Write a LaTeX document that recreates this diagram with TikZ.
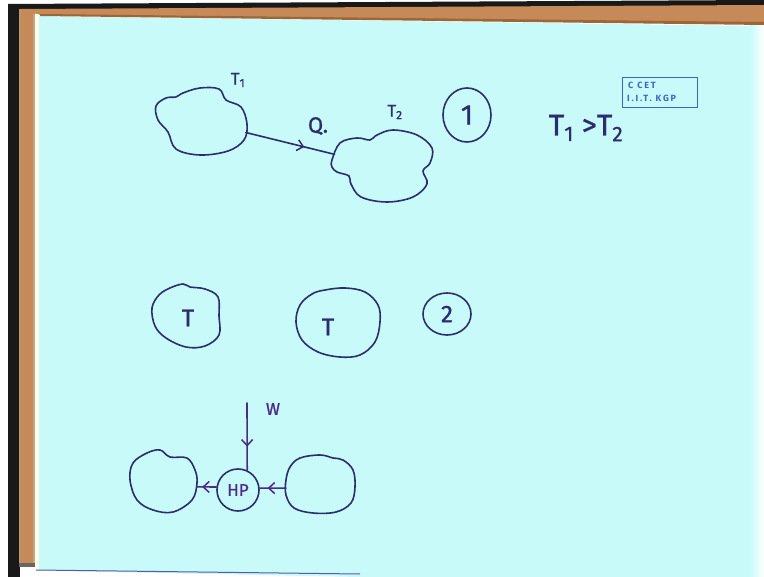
\documentclass[tikz,border=0pt]{standalone}
\usepackage{fontspec}
\setmainfont{Fira Sans}
\usetikzlibrary{shapes.geometric,arrows.meta,decorations.markings,calc}
\definecolor{board}{HTML}{C8FAFA}
\definecolor{wood}{HTML}{C68A58}
\definecolor{wooddark}{HTML}{9C6638}
\definecolor{ink}{HTML}{2B2D6E}
\definecolor{inkp}{HTML}{4B2A88}
\definecolor{stamp}{HTML}{4262C8}
\newcommand{\hand}[1]{\fontsize{#1}{#1}\selectfont\addfontfeature{FakeBold=1}}
\tikzset{
  pen/.style={draw=ink,line width=1.6pt,line cap=round,line join=round},
  penp/.style={draw=inkp,line width=1.6pt,line cap=round,line join=round},
  blobnode/.style={ellipse,draw=none,inner sep=0pt},
  lbl/.style={text=ink,inner sep=0pt},
  lblp/.style={text=inkp,inner sep=0pt},
  midarrow/.style={postaction={decorate},decoration={markings,
     mark=at position #1 with {\arrow{Straight Barb[length=6pt,width=11pt,line width=1.5pt]}}}}
}
\begin{document}
\begin{tikzpicture}[x=1pt,y=-1pt]
\useasboundingbox (0,0) rectangle (764,577);
% ---- frame and board ----
\fill[white] (0,0) rectangle (764,577);
\fill[board] (38,16) -- (758,26) -- (764,26) -- (764,577) -- (360,577) -- (60,571) -- (38,571) -- cycle;
\shade[left color=board,right color=white] (750,26) rectangle (764,577);
\fill[black!90] (8,4) rectangle (20,577);
\fill[black!90] (8,4) -- (764,0) -- (764,6) -- (8,10) -- cycle;
\fill[wood] (20,9) -- (764,5) -- (764,23) -- (40,15) -- cycle;
\fill[wood] (19,9) rectangle (35,563);
\fill[wooddark] (40,14) -- (764,22) -- (764,25) -- (40,16) -- cycle;
\fill[wooddark!70] (19,10) rectangle (21,563);
\fill[wooddark!60] (33,14) rectangle (35,563);
\fill[yellow!10!white] (35,14) rectangle (39,569);
\fill[black!60] (19,563) rectangle (35,567);
\draw[blue!30!gray,line width=1pt] (36,570) -- (360,574);
% ---- picture 1 ----
\node[blobnode,minimum width=90pt,minimum height=66pt] (t1) at (203,122) {};
\draw[pen] plot[smooth cycle,tension=0.6] coordinates {
  (183,93) (200,88) (219,89) (226,100) (241,107) (247,124) (244,140)
  (228,151) (200,155) (176,149) (168,132) (158,120) (156,106) (166,98) (176,97)};
\node[blobnode,minimum width=100pt,minimum height=72pt] (t2) at (382,166) {};
\draw[pen] plot[smooth cycle,tension=0.6] coordinates {
  (332,160) (340,143) (357,138) (370,140) (377,135) (393,130) (417,135)
  (432,148) (430,163) (423,171) (427,184) (413,197) (387,202) (361,197)
  (351,184) (349,176) (337,172) (332,167)};
\draw[pen,midarrow=0.66] (t1) -- (t2);
\node[lbl,font=\hand{17}] (lt1) at (238,80) {T\textsubscript{1}};
\node[lbl,font=\hand{22}] (lq) at (318,126) {Q.};
\node[lbl,font=\hand{17}] (lt2) at (395,112) {T\textsubscript{2}};
\node[ellipse,draw=ink,line width=1.6pt,minimum width=48pt,minimum height=54pt,inner sep=0pt,
      text=ink,font=\hand{28}] (n1) at (467,115) {1};
\node[lbl,font=\hand{30}] (ineq) at (586,128) {T\textsubscript{1} \textgreater T\textsubscript{2}};
\node[draw=stamp,line width=0.8pt,minimum width=75pt,minimum height=30pt,inner sep=0pt] (stampbox) at (659.5,92) {};
\node[text=stamp,anchor=west,inner sep=0pt,font=\fontsize{9}{9}\selectfont\bfseries\addfontfeature{LetterSpace=20}] (s1) at (628,85) {C CET};
\node[text=stamp,anchor=west,inner sep=0pt,font=\fontsize{9}{9}\selectfont\bfseries\addfontfeature{LetterSpace=20}] (s2) at (627,98) {I.I.T. KGP};
% ---- picture 2 ----
\node[blobnode,minimum width=68pt,minimum height=64pt,text=ink,font=\hand{24}] (c1) at (188,318) {T};
\draw[pen] plot[smooth cycle,tension=0.6] coordinates {
  (170,288) (183,284) (190,287) (205,289) (218,297) (219,316) (219,335)
  (205,346) (186,347) (166,338) (155,326) (152,308) (159,295)};
\node[blobnode,minimum width=84pt,minimum height=68pt,text=ink,font=\hand{24}] (c2) at (328,327) {T};
\draw[pen] plot[smooth cycle,tension=0.6] coordinates {
  (325,290) (345,288) (365,292) (378,305) (380,322) (375,342) (360,355)
  (340,357) (318,352) (302,340) (296,322) (300,305) (312,294)};
\node[ellipse,draw=ink,line width=1.6pt,minimum width=48pt,minimum height=42pt,inner sep=0pt,
      text=ink,font=\hand{24}] (n2) at (447,314) {2};
% ---- picture 3 ----
\node[blobnode,minimum width=68pt,minimum height=62pt] (lb) at (163,481) {};
\draw[pen] plot[smooth cycle,tension=0.6] coordinates {
  (160,450) (170,457) (187,458) (195,470) (197,483) (192,500) (173,512)
  (153,510) (137,500) (130,480) (133,463) (147,453)};
\node[blobnode,minimum width=70pt,minimum height=58pt] (rb) at (321,485) {};
\draw[pen] plot[smooth cycle,tension=0.6] coordinates {
  (290,467) (300,458) (320,455) (333,458) (343,460) (353,470) (355,487)
  (351,503) (336,512) (313,513) (294,508) (286,495) (286,480)};
\node[circle,draw=ink,line width=1.6pt,minimum size=42pt,inner sep=0pt,
      text=inkp,font=\hand{17}] (hp) at (238,490) {HP};
\coordinate (w0) at (247,403);
\draw[penp,midarrow=0.65] (w0) -- (hp.65);
\draw[penp,midarrow=0.72] (hp.172) -- (lb.-10);
\draw[penp,midarrow=0.7] (rb.185) -- (hp.5);
\node[lblp,font=\hand{17}] (lw) at (273,409) {W};
\end{tikzpicture}
\end{document}
